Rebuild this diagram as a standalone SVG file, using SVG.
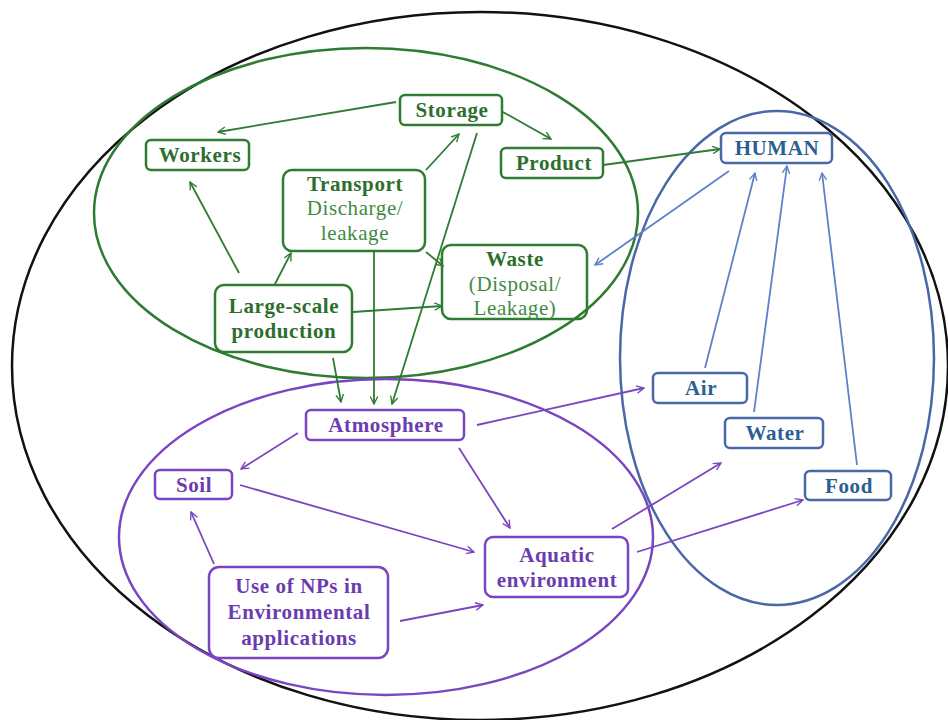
<svg xmlns="http://www.w3.org/2000/svg" width="948" height="720" viewBox="0 0 948 720">
<style>
.bg{fill:#ffffff}
.reg{fill:none;stroke-width:2.5}
.box{fill:none;stroke-width:2.5}
.g{stroke:#2e7b32}
.p{stroke:#7a45c0}
.b{stroke:#4a68a8}
.t{font-family:'Liberation Serif','Times New Roman',serif;font-size:21px;letter-spacing:0.6px;text-anchor:middle}
.tb{font-weight:bold}
.tg{fill:#2c6e2e}
.tgl{fill:#3f8a42}
.tp{fill:#6a3cb0}
.tbl{fill:#2a5f92}
.cg{stroke:#2e7b32;stroke-width:1.8;fill:none;marker-end:url(#ag)}
.cp{stroke:#7a45c0;stroke-width:1.8;fill:none;marker-end:url(#ap)}
.cb{stroke:#5d82c8;stroke-width:1.8;fill:none;marker-end:url(#ab)}
</style>
<defs>
<marker id="ag" viewBox="0 0 12 12" refX="11" refY="6" markerWidth="9" markerHeight="9" orient="auto" markerUnits="userSpaceOnUse"><path d="M1,1 L11,6 L1,11" fill="none" stroke="#2e7b32" stroke-width="1.8"/></marker>
<marker id="ap" viewBox="0 0 12 12" refX="11" refY="6" markerWidth="9" markerHeight="9" orient="auto" markerUnits="userSpaceOnUse"><path d="M1,1 L11,6 L1,11" fill="none" stroke="#7a45c0" stroke-width="1.8"/></marker>
<marker id="ab" viewBox="0 0 12 12" refX="11" refY="6" markerWidth="9" markerHeight="9" orient="auto" markerUnits="userSpaceOnUse"><path d="M1,1 L11,6 L1,11" fill="none" stroke="#5d82c8" stroke-width="1.8"/></marker>
</defs>
<rect class="bg" x="0" y="0" width="948" height="720"/>
<g id="regions">
<ellipse cx="480" cy="366" rx="468" ry="354" fill="none" stroke="#111111" stroke-width="2.5"/>
<ellipse class="reg g" cx="366" cy="213" rx="272" ry="165"/>
<ellipse class="reg p" cx="386" cy="537" rx="267" ry="158"/>
<ellipse class="reg b" cx="777" cy="358" rx="157" ry="247"/>
</g>
<g id="connectors">
<line class="cg" x1="396" y1="102" x2="218" y2="132"/>
<line class="cg" x1="503" y1="112" x2="551" y2="139"/>
<line class="cg" x1="603" y1="165" x2="720" y2="149"/>
<line class="cg" x1="239" y1="273" x2="190" y2="182"/>
<line class="cg" x1="275" y1="284" x2="291" y2="253"/>
<line class="cg" x1="426" y1="170" x2="459" y2="134"/>
<line class="cg" x1="477" y1="133" x2="392" y2="404"/>
<line class="cg" x1="426" y1="252" x2="443" y2="266"/>
<line class="cg" x1="374" y1="252" x2="374" y2="404"/>
<line class="cg" x1="353" y1="312" x2="442" y2="306"/>
<line class="cg" x1="333" y1="358" x2="341" y2="402"/>
<line class="cb" x1="729" y1="171" x2="595" y2="265"/>
<line class="cb" x1="705" y1="368" x2="755" y2="173"/>
<line class="cb" x1="754" y1="412" x2="787" y2="166"/>
<line class="cb" x1="857" y1="465" x2="822" y2="173"/>
<line class="cp" x1="298" y1="433" x2="241" y2="469"/>
<line class="cp" x1="459" y1="448" x2="510" y2="528"/>
<line class="cp" x1="477" y1="425" x2="644" y2="388"/>
<line class="cp" x1="240" y1="485" x2="474" y2="552"/>
<line class="cp" x1="214" y1="564" x2="191" y2="512"/>
<line class="cp" x1="400" y1="621" x2="483" y2="605"/>
<line class="cp" x1="612" y1="529" x2="721" y2="463"/>
<line class="cp" x1="637" y1="552" x2="803" y2="500"/>
</g>
<g id="storage"><rect class="box g" x="400" y="95" width="102" height="30" rx="5"/><text class="t tb tg" x="452" y="117">Storage</text></g>
<g id="workers"><rect class="box g" x="146" y="140" width="103" height="30" rx="5"/><text class="t tb tg" x="200" y="162">Workers</text></g>
<g id="product"><rect class="box g" x="501" y="148" width="102" height="30" rx="5"/><text class="t tb tg" x="554" y="170">Product</text></g>
<g id="transport"><rect class="box g" x="283" y="170" width="142" height="81" rx="9"/><text class="t tb tg" x="355" y="191">Transport</text><text class="t tgl" x="355" y="215">Discharge/</text><text class="t tgl" x="355" y="240">leakage</text></g>
<g id="waste"><rect class="box g" x="442" y="245" width="145" height="74" rx="9"/><text class="t tb tg" x="515" y="266">Waste</text><text class="t tgl" x="515" y="291">(Disposal/</text><text class="t tgl" x="515" y="315">Leakage)</text></g>
<g id="largescale"><rect class="box g" x="215" y="285" width="137" height="67" rx="9"/><text class="t tb tg" x="284" y="313">Large-scale</text><text class="t tb tg" x="284" y="338">production</text></g>
<g id="human"><rect class="box b" x="721" y="133" width="111" height="30" rx="5"/><text class="t tb tbl" x="777" y="155">HUMAN</text></g>
<g id="atmosphere"><rect class="box p" x="306" y="410" width="158" height="30" rx="5"/><text class="t tb tp" x="386" y="432">Atmosphere</text></g>
<g id="soil"><rect class="box p" x="155" y="470" width="77" height="29" rx="5"/><text class="t tb tp" x="194" y="492">Soil</text></g>
<g id="usenps"><rect class="box p" x="209" y="567" width="179" height="91" rx="10"/><text class="t tb tp" x="299" y="593">Use of NPs in</text><text class="t tb tp" x="299" y="619">Environmental</text><text class="t tb tp" x="299" y="645">applications</text></g>
<g id="aquatic"><rect class="box p" x="485" y="537" width="143" height="60" rx="8"/><text class="t tb tp" x="557" y="562">Aquatic</text><text class="t tb tp" x="557" y="587">environment</text></g>
<g id="air"><rect class="box b" x="653" y="373" width="94" height="30" rx="5"/><text class="t tb tbl" x="701" y="395">Air</text></g>
<g id="water"><rect class="box b" x="725" y="418" width="98" height="30" rx="5"/><text class="t tb tbl" x="775" y="440">Water</text></g>
<g id="food"><rect class="box b" x="805" y="471" width="86" height="29" rx="5"/><text class="t tb tbl" x="849" y="493">Food</text></g>
</svg>
